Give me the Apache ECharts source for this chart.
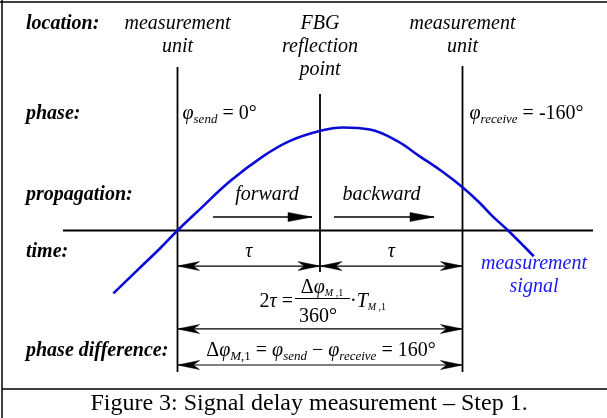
<!DOCTYPE html>
<html><head><meta charset="utf-8">
<script src="https://cdn.jsdelivr.net/npm/echarts/dist/echarts.min.js"></script>
<style>html,body{margin:0;padding:0;background:#fff}#c{width:607px;height:418px}</style>
</head><body><div id="c"></div>
<script>
// ---- data (time in units of the one-way delay τ, amplitude normalised) ----
const locationNames = ['measurement\nunit', 'FBG\nreflection\npoint', 'measurement\nunit'];
const locationTime = [0, 1, 2];
const signalTime = [-0.45, -0.24, -0.12, 0, 0.16, 0.37, 0.60, 0.79, 1.01, 1.16, 1.35, 1.54, 1.70, 1.86, 2.00, 2.12, 2.21, 2.32, 2.50];
const signalAmplitude = [-0.61, -0.33, -0.17, 0, 0.21, 0.48, 0.72, 0.87, 0.97, 1.00, 0.98, 0.87, 0.72, 0.57, 0.42, 0.27, 0.14, 0, -0.25];
const rowLabels = ['location:', 'phase:', 'propagation:', 'time:', 'phase difference:'];
const propagationLabels = ['forward', 'backward'];
const delayLabel = 'τ';
const phaseSend = 0;      // degrees
const phaseReceive = -160; // degrees
const signalName = ['measurement', 'signal'];
const caption = 'Figure 3: Signal delay measurement – Step 1.';

// ---- rendering ----
const FONT = '"Liberation Serif","Times New Roman",serif';
const chart = echarts.init(document.getElementById('c'), null, {renderer: 'canvas', width: 607, height: 418});
const signalData = signalTime.map((t, i) => [t, signalAmplitude[i]]);

// structural lines: [x1,y1,x2,y2,headStart,headEnd,lineWidth]  (heads: 0 none, 1 barb, 2 triangle)
const L0 = locationTime[0], L1 = locationTime[1], L2 = locationTime[2];
const structure = [
  [L0, 1.587, L0, -1.374, 0, 0, 1.8],
  [L1, 1.325, L1, -0.403, 0, 0, 1.8],
  [L2, 1.597, L2, -1.374, 0, 0, 1.8],
  [-0.804, 0, 2.916, 0, 0, 0, 1.8],
  [0.249, 0.131, 0.944, 0.131, 0, 2, 1.3],
  [1.098, 0.131, 1.80, 0.131, 0, 2, 1.3],
  [L0, -0.345, L1, -0.345, 1, 1, 1.2],
  [L1, -0.345, L2, -0.345, 1, 1, 1.2],
  [L0, -0.956, L2, -0.956, 1, 1, 1.2],
  [L0, -1.306, L2, -1.306, 1, 1, 1.2]
];

function head(P, d, kind) {
  const n = [-d[1], d[0]];
  let pts;
  if (kind === 1) {
    const Lh = 22, w = 4.5;
    pts = [P, [P[0]-d[0]*Lh+n[0]*w, P[1]-d[1]*Lh+n[1]*w], [P[0]-d[0]*Lh*0.72, P[1]-d[1]*Lh*0.72], [P[0]-d[0]*Lh-n[0]*w, P[1]-d[1]*Lh-n[1]*w]];
  } else {
    const Lh = 24, w = 4.5;
    pts = [P, [P[0]-d[0]*Lh+n[0]*w, P[1]-d[1]*Lh+n[1]*w], [P[0]-d[0]*Lh-n[0]*w, P[1]-d[1]*Lh-n[1]*w]];
  }
  return {type: 'polygon', shape: {points: pts}, style: {fill: '#000', stroke: '#000', lineWidth: 0.5}};
}

const option = {
  animation: false,
  grid: {left: 35, right: 2, top: 24.5, bottom: 33, containLabel: false},
  xAxis: {type: 'value', min: -1, max: 3, show: false},
  yAxis: {type: 'value', min: -1.5, max: 2, show: false},
  series: [
    {
      type: 'custom', silent: true, clip: false,
      data: structure,
      encode: {x: [0, 2], y: [1, 3]},
      renderItem: function (params, api) {
        const a = api.coord([api.value(0), api.value(1)]);
        const b = api.coord([api.value(2), api.value(3)]);
        const lw = api.value(6);
        const dx = b[0]-a[0], dy = b[1]-a[1], len = Math.hypot(dx, dy);
        const d = [dx/len, dy/len];
        const children = [{type: 'line', shape: {x1: a[0], y1: a[1], x2: b[0], y2: b[1]}, style: {stroke: '#000', lineWidth: lw}}];
        if (api.value(4)) children.push(head(a, [-d[0], -d[1]], api.value(4)));
        if (api.value(5)) children.push(head(b, d, api.value(5)));
        return {type: 'group', children};
      }
    },
    {
      type: 'line', data: signalData, smooth: 0.4, showSymbol: false, silent: true,
      lineStyle: {color: '#0b0bd6', width: 2.6}, z: 5
    }
  ]
};
chart.setOption(option);

// ---- text layout helpers ----
const ctx = document.createElement('canvas').getContext('2d');
function measure(t, st, wt, sz) { ctx.font = `${st} ${wt} ${sz}px ${FONT}`; return ctx.measureText(t).width; }
const graphics = [];
function txt(x, baseline, text, o) {
  o = o || {};
  const sz = o.z || 20;
  graphics.push({type: 'text', x: x, y: baseline - 0.32*sz, silent: true, style: {
    text: text, fontSize: sz, fontFamily: FONT, fontStyle: o.s || 'normal', fontWeight: o.b || 'normal',
    fill: o.c || '#000', align: o.align || 'left', verticalAlign: 'middle'}});
}
function runs(x, baseline, parts, align) {
  const ws = parts.map(p => measure(p.t, p.s || 'normal', p.b || 'normal', p.z || 20));
  const total = ws.reduce((s, v) => s + v, 0);
  let cx = align === 'center' ? x - total/2 : (align === 'right' ? x - total : x);
  parts.forEach((p, i) => { txt(cx, baseline + (p.dy || 0), p.t, p); cx += ws[i]; });
  return total;
}
const px = t => chart.convertToPixel({gridIndex: 0}, [t, 0])[0];

// frame
graphics.push({type: 'line', shape: {x1: 0, y1: 2, x2: 607, y2: 2}, style: {stroke: '#000', lineWidth: 1.5}});
graphics.push({type: 'line', shape: {x1: 2, y1: 0, x2: 2, y2: 418}, style: {stroke: '#000', lineWidth: 1.5}});
graphics.push({type: 'line', shape: {x1: 2, y1: 389, x2: 607, y2: 389}, style: {stroke: '#000', lineWidth: 1.5}});

// row labels
const rowBase = [30, 120, 201.5, 258, 357];
rowLabels.forEach((l, i) => txt(26, rowBase[i], l, {s: 'italic', b: 'bold'}));

// location headers
locationNames.forEach((n, i) => {
  n.split('\n').forEach((line, j) => txt(px(locationTime[i]), 30 + 23*j, line, {s: 'italic', align: 'center'}));
});

// phases
const sub = 13;
runs(px(L0) + 5, 120, [
  {t: 'φ', s: 'italic'}, {t: 'send', s: 'italic', z: sub, dy: 4}, {t: ' = ' + phaseSend + '°'}
]);
runs(px(L2) + 7, 120, [
  {t: 'φ', s: 'italic'}, {t: 'receive', s: 'italic', z: sub, dy: 4}, {t: ' = ' + phaseReceive + '°'}
]);

// propagation
txt(267, 200.7, propagationLabels[0], {s: 'italic', align: 'center'});
txt(381.5, 200.7, propagationLabels[1], {s: 'italic', align: 'center'});

// tau labels
txt((px(L0) + px(L1))/2, 258, delayLabel, {s: 'italic', align: 'center'});
txt((px(L1) + px(L2))/2, 258, delayLabel, {s: 'italic', align: 'center'});

// measurement signal
txt(534, 270, signalName[0], {s: 'italic', align: 'center', c: '#1818f0'});
txt(534, 293, signalName[1], {s: 'italic', align: 'center', c: '#1818f0'});

// 2τ formula
const xm = px(L1);
runs(xm - 27, 308, [{t: '2'}, {t: 'τ', s: 'italic'}, {t: ' ='}], 'right');
runs(xm + 2, 294, [{t: 'Δ'}, {t: 'φ', s: 'italic'}, {t: 'M', s: 'italic', z: 10, dy: 3}, {t: ' ,1', z: 10, dy: 3}], 'center');
graphics.push({type: 'line', shape: {x1: xm - 25, y1: 298.5, x2: xm + 30, y2: 298.5}, style: {stroke: '#000', lineWidth: 1}});
runs(xm - 2, 323, [{t: '360°'}], 'center');
runs(xm + 30, 308, [{t: '·'}, {t: 'T', s: 'italic'}, {t: 'M', s: 'italic', z: 10, dy: 3}, {t: ' ,1', z: 10, dy: 3}]);

// phase difference formula
runs(xm + 1, 357, [
  {t: 'Δ'}, {t: 'φ', s: 'italic'}, {t: 'M', s: 'italic', z: sub, dy: 4}, {t: ',1', z: sub, dy: 4},
  {t: ' = '}, {t: 'φ', s: 'italic'}, {t: 'send', s: 'italic', z: sub, dy: 4},
  {t: ' − '}, {t: 'φ', s: 'italic'}, {t: 'receive', s: 'italic', z: sub, dy: 4},
  {t: ' = ' + (phaseSend - phaseReceive) + '°'}
], 'center');

// caption
txt(309, 411, caption, {z: 24, align: 'center'});

chart.setOption({graphic: {elements: graphics}});
</script>
</body></html>
